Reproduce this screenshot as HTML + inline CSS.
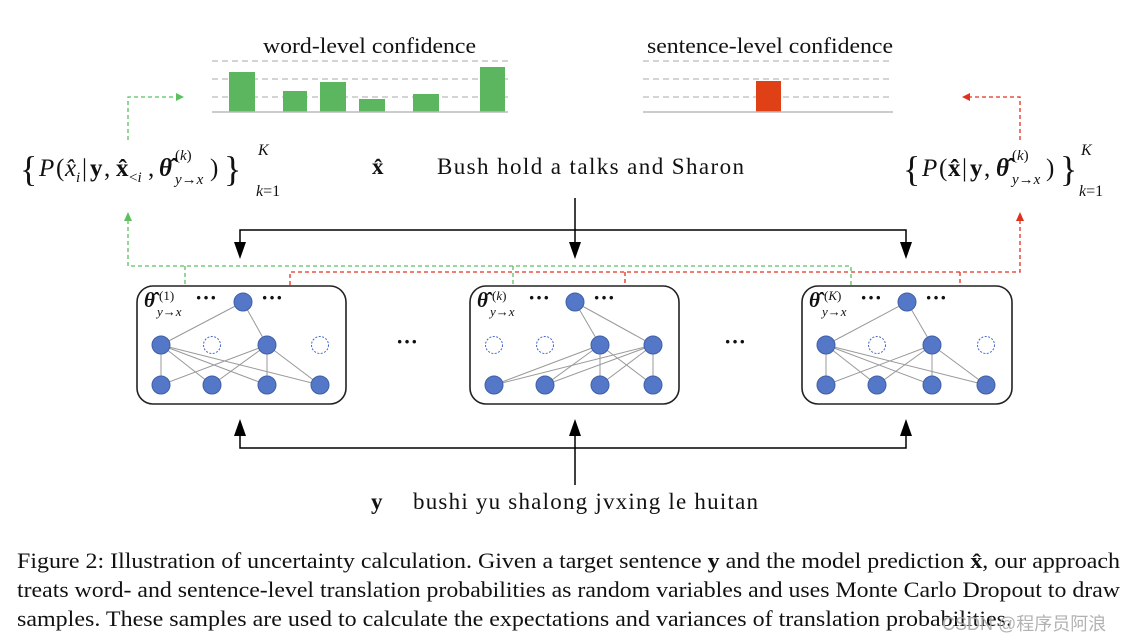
<!DOCTYPE html>
<html><head><meta charset="utf-8"><style>
html,body{margin:0;padding:0;background:#fff;}
svg{display:block;}
text{font-family:"Liberation Serif",serif;fill:#111;}
</style></head><body>
<svg width="1126" height="642" viewBox="0 0 1126 642" xmlns="http://www.w3.org/2000/svg">
<!-- word-level chart -->
<text x="263" y="53" font-size="22" textLength="213" lengthAdjust="spacingAndGlyphs">word-level confidence</text>
<g stroke="#bbb" stroke-width="1.3" stroke-dasharray="6,4">
<line x1="212" y1="61" x2="508" y2="61"/><line x1="212" y1="79" x2="508" y2="79"/><line x1="212" y1="97" x2="508" y2="97"/>
<line x1="643" y1="61" x2="893" y2="61"/><line x1="643" y1="79" x2="893" y2="79"/><line x1="643" y1="97" x2="893" y2="97"/>
</g>
<g fill="#5cb55f">
<rect x="229" y="72" width="26" height="40"/><rect x="283" y="91" width="24" height="21"/><rect x="320" y="82" width="26" height="30"/>
<rect x="359" y="99" width="26" height="13"/><rect x="413" y="94" width="26" height="18"/><rect x="480" y="67" width="25" height="45"/>
</g>
<line x1="212" y1="112" x2="508" y2="112" stroke="#bbb" stroke-width="1.5"/>
<text x="647" y="53" font-size="22" textLength="246" lengthAdjust="spacingAndGlyphs">sentence-level confidence</text>
<rect x="756" y="81" width="25" height="31" fill="#e04016"/>
<line x1="643" y1="112" x2="893" y2="112" stroke="#bbb" stroke-width="1.5"/>

<!-- left formula -->
<text x="20" y="181" font-size="36">{</text>
<text y="176" font-size="25"><tspan x="39" font-style="italic">P</tspan><tspan x="56">(</tspan><tspan x="65" font-style="italic">x̂</tspan><tspan x="76" y="182" font-size="15" font-style="italic">i</tspan><tspan x="82" y="176">|</tspan><tspan x="90" font-weight="bold">y</tspan><tspan x="104">,</tspan><tspan x="116" font-weight="bold">x̂</tspan><tspan x="129" y="182" font-size="15">&lt;<tspan font-style="italic">i</tspan></tspan><tspan x="148" y="176">,</tspan><tspan x="159" font-weight="bold" font-style="italic">θ̂</tspan><tspan x="175" y="160" font-size="15">(<tspan font-style="italic">k</tspan>)</tspan><tspan x="175" y="184" font-size="15" font-style="italic">y→x</tspan><tspan x="210" y="176">)</tspan></text>
<text x="224" y="181" font-size="36">}</text>
<text x="258" y="155" font-size="16" font-style="italic">K</text>
<text x="256" y="196" font-size="16"><tspan font-style="italic">k</tspan>=1</text>

<text x="372" y="174" font-size="23" font-weight="bold">x̂</text>
<text x="437" y="174" font-size="23" textLength="307" lengthAdjust="spacing">Bush hold a talks and Sharon</text>

<!-- right formula -->
<text x="903" y="181" font-size="36">{</text>
<text y="176" font-size="25"><tspan x="922" font-style="italic">P</tspan><tspan x="939">(</tspan><tspan x="948" font-weight="bold">x̂</tspan><tspan x="962">|</tspan><tspan x="970" font-weight="bold">y</tspan><tspan x="984">,</tspan><tspan x="996" font-weight="bold" font-style="italic">θ̂</tspan><tspan x="1012" y="160" font-size="15">(<tspan font-style="italic">k</tspan>)</tspan><tspan x="1012" y="184" font-size="15" font-style="italic">y→x</tspan><tspan x="1046" y="176">)</tspan></text>
<text x="1060" y="181" font-size="36">}</text>
<text x="1081" y="155" font-size="16" font-style="italic">K</text>
<text x="1079" y="196" font-size="16"><tspan font-style="italic">k</tspan>=1</text>

<!-- green/red dashed top -->
<polyline points="128,140 128,97 176,97" fill="none" stroke="#5cc060" stroke-width="1.3" stroke-dasharray="4,3"/>
<path d="M176,93 L184,97 L176,101 Z" fill="#5cc060"/>
<polyline points="1020,140 1020,97 970,97" fill="none" stroke="#e0301e" stroke-width="1.3" stroke-dasharray="4,3"/>
<path d="M970,93 L962,97 L970,101 Z" fill="#e0301e"/>

<!-- green/red dashed bottom -->
<polyline points="128,220 128,266 851,266 851,285" fill="none" stroke="#5cc060" stroke-width="1.3" stroke-dasharray="4,3"/>
<path d="M124,221 L128,212 L132,221 Z" fill="#5cc060"/>
<line x1="185" y1="266" x2="185" y2="285" stroke="#5cc060" stroke-width="1.3" stroke-dasharray="4,3"/>
<line x1="513" y1="266" x2="513" y2="285" stroke="#5cc060" stroke-width="1.3" stroke-dasharray="4,3"/>
<polyline points="290,285 290,272 1020,272 1020,220" fill="none" stroke="#e0301e" stroke-width="1.3" stroke-dasharray="4,3"/>
<path d="M1016,221 L1020,212 L1024,221 Z" fill="#e0301e"/>
<line x1="625" y1="272" x2="625" y2="285" stroke="#e0301e" stroke-width="1.3" stroke-dasharray="4,3"/>
<line x1="960" y1="272" x2="960" y2="285" stroke="#e0301e" stroke-width="1.3" stroke-dasharray="4,3"/>

<!-- black arrows -->
<g stroke="#000" stroke-width="1.5" fill="none">
<line x1="575" y1="198" x2="575" y2="244"/>
<polyline points="240,244 240,230 906,230 906,244"/>
<polyline points="240,434 240,448 906,448 906,434"/>
<line x1="575" y1="485" x2="575" y2="434"/>
</g>
<g fill="#000">
<path d="M234,242 L246,242 L240,259 Z"/><path d="M569,242 L581,242 L575,259 Z"/><path d="M900,242 L912,242 L906,259 Z"/>
<path d="M234,436 L246,436 L240,419 Z"/><path d="M569,436 L581,436 L575,419 Z"/><path d="M900,436 L912,436 L906,419 Z"/>
</g>

<!-- boxes -->
<g fill="none" stroke="#222" stroke-width="1.6">
<rect x="137" y="286" width="209" height="118" rx="16"/>
<rect x="470" y="286" width="209" height="118" rx="16"/>
<rect x="802" y="286" width="210" height="118" rx="16"/>
</g>
<g stroke="#999" stroke-width="1">
<line x1="243" y1="302" x2="161" y2="345"/><line x1="243" y1="302" x2="267" y2="345"/>
<line x1="161" y1="345" x2="161" y2="385"/><line x1="161" y1="345" x2="212" y2="385"/><line x1="161" y1="345" x2="267" y2="385"/><line x1="161" y1="345" x2="320" y2="385"/>
<line x1="267" y1="345" x2="161" y2="385"/><line x1="267" y1="345" x2="212" y2="385"/><line x1="267" y1="345" x2="267" y2="385"/><line x1="267" y1="345" x2="320" y2="385"/>
<line x1="575" y1="302" x2="600" y2="345"/><line x1="575" y1="302" x2="653" y2="345"/>
<line x1="600" y1="345" x2="494" y2="385"/><line x1="600" y1="345" x2="545" y2="385"/><line x1="600" y1="345" x2="600" y2="385"/><line x1="600" y1="345" x2="653" y2="385"/>
<line x1="653" y1="345" x2="494" y2="385"/><line x1="653" y1="345" x2="545" y2="385"/><line x1="653" y1="345" x2="600" y2="385"/><line x1="653" y1="345" x2="653" y2="385"/>
<line x1="907" y1="302" x2="826" y2="345"/><line x1="907" y1="302" x2="932" y2="345"/>
<line x1="826" y1="345" x2="826" y2="385"/><line x1="826" y1="345" x2="877" y2="385"/><line x1="826" y1="345" x2="932" y2="385"/><line x1="826" y1="345" x2="986" y2="385"/>
<line x1="932" y1="345" x2="826" y2="385"/><line x1="932" y1="345" x2="877" y2="385"/><line x1="932" y1="345" x2="932" y2="385"/><line x1="932" y1="345" x2="986" y2="385"/>
</g>
<g fill="#5577c8" stroke="#3f5fa8" stroke-width="1">
<circle cx="243" cy="302" r="9"/><circle cx="161" cy="345" r="9"/><circle cx="267" cy="345" r="9"/>
<circle cx="161" cy="385" r="9"/><circle cx="212" cy="385" r="9"/><circle cx="267" cy="385" r="9"/><circle cx="320" cy="385" r="9"/>
<circle cx="575" cy="302" r="9"/><circle cx="600" cy="345" r="9"/><circle cx="653" cy="345" r="9"/>
<circle cx="494" cy="385" r="9"/><circle cx="545" cy="385" r="9"/><circle cx="600" cy="385" r="9"/><circle cx="653" cy="385" r="9"/>
<circle cx="907" cy="302" r="9"/><circle cx="826" cy="345" r="9"/><circle cx="932" cy="345" r="9"/>
<circle cx="826" cy="385" r="9"/><circle cx="877" cy="385" r="9"/><circle cx="932" cy="385" r="9"/><circle cx="986" cy="385" r="9"/>
</g>
<g fill="none" stroke="#4466cc" stroke-width="1" stroke-dasharray="2,1.5">
<circle cx="212" cy="345" r="8.5"/><circle cx="320" cy="345" r="8.5"/>
<circle cx="494" cy="345" r="8.5"/><circle cx="545" cy="345" r="8.5"/>
<circle cx="877" cy="345" r="8.5"/><circle cx="986" cy="345" r="8.5"/>
</g>
<!-- theta labels -->
<g font-size="21">
<text x="144" y="307" font-weight="bold" font-style="italic">θ̂</text><text x="159" y="300" font-size="13">(1)</text><text x="157" y="316" font-size="13" font-style="italic">y→x</text>
<text x="477" y="307" font-weight="bold" font-style="italic">θ̂</text><text x="492" y="300" font-size="13">(<tspan font-style="italic">k</tspan>)</text><text x="490" y="316" font-size="13" font-style="italic">y→x</text>
<text x="809" y="307" font-weight="bold" font-style="italic">θ̂</text><text x="824" y="300" font-size="13">(<tspan font-style="italic">K</tspan>)</text><text x="822" y="316" font-size="13" font-style="italic">y→x</text>
</g>
<g font-size="22" font-weight="bold">
<text x="195" y="305">···</text><text x="261" y="305">···</text>
<text x="528" y="305">···</text><text x="593" y="305">···</text>
<text x="860" y="305">···</text><text x="925" y="305">···</text>
<text x="396" y="349">···</text><text x="724" y="349">···</text>
</g>

<!-- bottom sentence -->
<text x="371" y="509" font-size="23" font-weight="bold">y</text>
<text x="413" y="509" font-size="23" textLength="345" lengthAdjust="spacing">bushi yu shalong jvxing le huitan</text>

<!-- caption -->
<g font-size="22.5">
<text x="17" y="568" textLength="1103" lengthAdjust="spacingAndGlyphs">Figure 2: Illustration of uncertainty calculation. Given a target sentence <tspan font-weight="bold">y</tspan> and the model prediction <tspan font-weight="bold">x̂</tspan>, our approach</text>
<text x="17" y="597" textLength="1103" lengthAdjust="spacingAndGlyphs">treats word- and sentence-level translation probabilities as random variables and uses Monte Carlo Dropout to draw</text>
<text x="17" y="626" textLength="995" lengthAdjust="spacingAndGlyphs">samples. These samples are used to calculate the expectations and variances of translation probabilities.</text>
</g>
<text x="942" y="630" font-size="18" style="font-family:'Liberation Sans','Noto Sans CJK SC',sans-serif;fill:#aaa;opacity:0.9">CSDN @程序员阿浪</text>
</svg>
</body></html>
